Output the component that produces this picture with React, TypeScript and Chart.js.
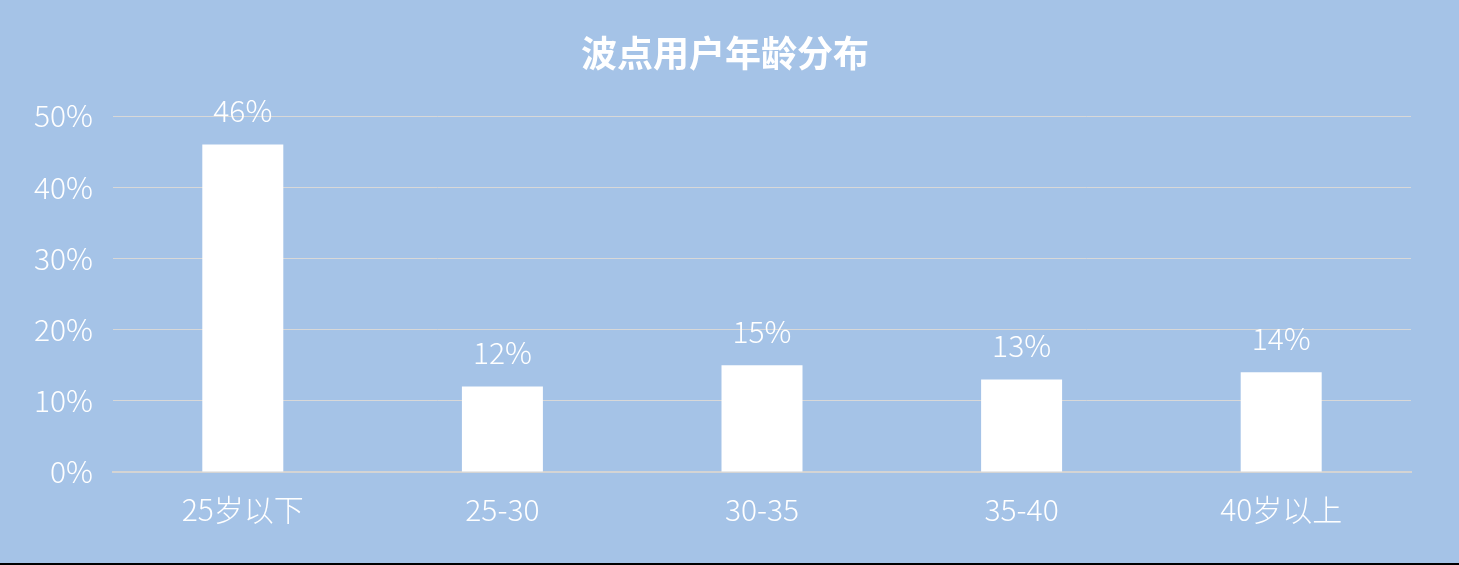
import { useEffect, useRef } from "react";
import { Chart, registerables } from "chart.js";

Chart.register(...registerables);

const categories = ["25岁以下", "25-30", "30-35", "35-40", "40岁以上"];
const shares = [46, 12, 15, 13, 14];
const yTicks = [0, 10, 20, 30, 40, 50];
const titleText = "波点用户年龄分布";

const FONT = "'Noto Sans CJK SC', 'Open Sans', sans-serif";

const valueLabels = {
  id: "valueLabels",
  afterDatasetsDraw(chart: Chart) {
    const ctx = chart.ctx;
    const meta = chart.getDatasetMeta(0);
    ctx.save();
    ctx.fillStyle = "#ffffff";
    ctx.font = `300 30px ${FONT}`;
    ctx.textAlign = "center";
    ctx.textBaseline = "middle";
    meta.data.forEach((bar: any, i: number) => {
      ctx.fillText(shares[i] + "%", bar.x, bar.y - 34);
    });
    ctx.restore();
  },
};

// the built-in title centres on the padded box, so draw it on the page centre instead
const pageTitle = {
  id: "pageTitle",
  afterDraw(chart: Chart) {
    const ctx = chart.ctx;
    ctx.save();
    ctx.fillStyle = "#ffffff";
    ctx.font = `bold 36px ${FONT}`;
    ctx.textAlign = "center";
    ctx.textBaseline = "middle";
    ctx.fillText(titleText, 725, 53);
    ctx.restore();
  },
};

const App = () => {
  const chartRef = useRef<HTMLCanvasElement>(null);
  const chartInstanceRef = useRef<Chart | null>(null);

  useEffect(() => {
    const ctx = chartRef.current?.getContext("2d");
    if (!ctx) return;

    chartInstanceRef.current = new Chart(ctx, {
      type: "bar",
      data: {
        labels: categories,
        datasets: [
          {
            data: shares,
            backgroundColor: "#ffffff",
            barPercentage: 0.312,
            categoryPercentage: 1,
          },
        ],
      },
      options: {
        responsive: false,
        animation: false,
        layout: { padding: { left: 0, right: 48, top: 116, bottom: 0 } },
        plugins: {
          legend: { display: false },
          tooltip: { enabled: false },
          title: { display: false },
        },
        scales: {
          x: {
            grid: { display: false },
            border: { color: "#d4d4d4", width: 2 },
            ticks: {
              color: "#ffffff",
              font: { family: FONT, size: 30, weight: "300" },
              padding: 12,
            },
            afterFit: (scale: any) => {
              scale.height = 91;
            },
          },
          y: {
            min: 0,
            max: 50,
            afterBuildTicks: (scale: any) => {
              scale.ticks = yTicks.map((v) => ({ value: v }));
            },
            grid: { color: "#d8d8d8", lineWidth: 1, drawTicks: false },
            border: { display: false },
            ticks: {
              color: "#ffffff",
              font: { family: FONT, size: 30, weight: "300" },
              padding: 20,
              callback: (v: any) => v + "%",
            },
            afterFit: (scale: any) => {
              scale.width = 113;
            },
          },
        },
      },
      plugins: [valueLabels, pageTitle],
    });

    return () => {
      if (chartInstanceRef.current) {
        chartInstanceRef.current.destroy();
      }
    };
  }, []);

  return (
    <div
      style={{
        position: "fixed",
        left: 0,
        top: 0,
        width: 1459,
        height: 565,
        background: "#a5c3e7",
        boxSizing: "border-box",
        borderBottom: "2px solid #000",
      }}
    >
      <canvas ref={chartRef} width={1459} height={563} style={{ display: "block" }} />
    </div>
  );
};

export default App;
